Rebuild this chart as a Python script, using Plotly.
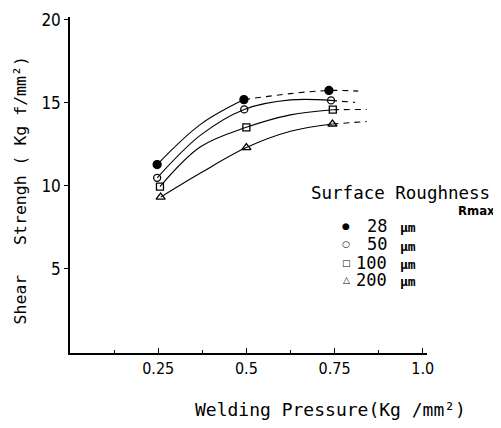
import plotly.graph_objects as go

roughness = ["28", "50", "100", "200"]
pressure_28 = [0.247, 0.493, 0.734]
strength_28 = [11.28, 15.19, 15.74]
pressure_50 = [0.247, 0.494, 0.740]
strength_50 = [10.48, 14.60, 15.14]
pressure_100 = [0.255, 0.500, 0.745]
strength_100 = [9.95, 13.52, 14.58]
pressure_200 = [0.257, 0.500, 0.744]
strength_200 = [9.32, 12.30, 13.72]

# ---- fitted curves (solid part, dashed extrapolation) ----
curve_solid_x_28 = [0.247, 0.37, 0.493]
curve_solid_y_28 = [11.28, 13.70, 15.19]
curve_dash_x_28 = [0.493, 0.625, 0.734, 0.817]
curve_dash_y_28 = [15.19, 15.55, 15.74, 15.70]

curve_solid_x_50 = [0.247, 0.37, 0.494, 0.625, 0.740]
curve_solid_y_50 = [10.48, 13.05, 14.60, 15.17, 15.14]
curve_dash_x_50 = [0.740, 0.808]
curve_dash_y_50 = [15.14, 15.02]

curve_solid_x_100 = [0.255, 0.37, 0.500, 0.625, 0.745]
curve_solid_y_100 = [9.95, 12.35, 13.52, 14.27, 14.58]
curve_dash_x_100 = [0.745, 0.841]
curve_dash_y_100 = [14.58, 14.60]

curve_solid_x_200 = [0.257, 0.37, 0.500, 0.625, 0.744]
curve_solid_y_200 = [9.32, 10.77, 12.30, 13.28, 13.72]
curve_dash_x_200 = [0.744, 0.841]
curve_dash_y_200 = [13.72, 13.87]

x_tickvals = [0.25, 0.5, 0.75, 1.0]
x_ticktext = ["0.25", "0.5", "0.75", "1.0"]
y_tickvals = [5, 10, 15, 20]
y_ticktext = ["5", "10", "15", "20"]

FONT = "DejaVu Sans Condensed, DejaVu Sans, sans-serif"
MONO = "DejaVu Sans Mono, monospace"
OFF = 8  # page body margin in the browser
W, H = 501 - OFF, 428 - OFF
# plot area in reference pixels: x 70..427, y 10..353
ML = 70 - OFF
MT = 10 - OFF
MR = W - (427 - OFF)
MB = H - (353 - OFF)
PW, PH = W - ML - MR, H - MT - MB


def px(xref_px):
    return (xref_px - OFF - ML) / PW


def py(yref_px):
    return (H - MB - (yref_px - OFF)) / PH


fig = go.Figure()

curves = [
    (curve_solid_x_28, curve_solid_y_28, curve_dash_x_28, curve_dash_y_28),
    (curve_solid_x_50, curve_solid_y_50, curve_dash_x_50, curve_dash_y_50),
    (curve_solid_x_100, curve_solid_y_100, curve_dash_x_100, curve_dash_y_100),
    (curve_solid_x_200, curve_solid_y_200, curve_dash_x_200, curve_dash_y_200),
]
for sx, sy, dx, dy in curves:
    fig.add_trace(go.Scatter(x=sx, y=sy, mode="lines", line=dict(color="black", width=1.1, shape="spline"),
                             showlegend=False, hoverinfo="skip"))
    fig.add_trace(go.Scatter(x=dx, y=dy, mode="lines",
                             line=dict(color="black", width=1.1, shape="spline", dash="6px,5px"),
                             showlegend=False, hoverinfo="skip"))

series = [
    (pressure_28, strength_28, "circle", 8),
    (pressure_50, strength_50, "circle-open", 7),
    (pressure_100, strength_100, "square-open", 7),
    (pressure_200, strength_200, "triangle-up-open", 8),
]
for (x, y, sym, size), name in zip(series, roughness):
    fig.add_trace(go.Scatter(
        x=x, y=y, mode="markers", name=name + " µm", showlegend=False,
        marker=dict(symbol=sym, size=size, color="black", line=dict(color="black", width=1.3)),
    ))

annotations = []
# axis titles
annotations.append(dict(x=px(330), y=py(411), xref="paper", yref="paper",
                        text="Welding Pressure(Kg /mm²)", showarrow=False,
                        font=dict(family=MONO, size=18, color="black"), xanchor="center", yanchor="middle"))
annotations.append(dict(x=px(20), y=py(187), xref="paper", yref="paper",
                        text="Shear   Strengh ( Kg f/mm²)", textangle=-90, showarrow=False,
                        font=dict(family=MONO, size=16.5, color="black"), xanchor="center", yanchor="middle"))
# legend block
annotations.append(dict(x=px(309), y=py(190), xref="paper", yref="paper", text="Surface Roughness",
                        showarrow=False, font=dict(family=MONO, size=17.5, color="black"),
                        xanchor="left", yanchor="middle"))
annotations.append(dict(x=px(497), y=py(208), xref="paper", yref="paper", text="<b>Rmax</b>",
                        showarrow=False, font=dict(family=FONT, size=13, color="black"),
                        xanchor="right", yanchor="middle"))
symbols = ["●", "○", "□", "△"]
rows_y = [223, 242, 261, 278]
for sym, val, ry in zip(symbols, roughness, rows_y):
    annotations.append(dict(x=px(346), y=py(ry), xref="paper", yref="paper", text=sym, showarrow=False,
                            font=dict(family="DejaVu Sans", size=9, color="black"),
                            xanchor="center", yanchor="middle"))
    annotations.append(dict(x=px(389), y=py(ry), xref="paper", yref="paper", text=val, showarrow=False,
                            font=dict(family=MONO, size=17, color="black"),
                            xanchor="right", yanchor="middle"))
    annotations.append(dict(x=px(398), y=py(ry + 2), xref="paper", yref="paper", text="<b>µm</b>",
                            showarrow=False, font=dict(family=MONO, size=13, color="black"),
                            xanchor="left", yanchor="middle"))

fig.update_layout(
    width=W, height=H,
    margin=dict(l=ML, r=MR, t=MT, b=MB),
    paper_bgcolor="white", plot_bgcolor="white",
    font=dict(family=FONT, color="black"),
    annotations=annotations,
    xaxis=dict(range=[0, 1.012], showgrid=False, zeroline=False, showline=True, linecolor="black",
               linewidth=1.5, tickvals=x_tickvals, ticktext=x_ticktext, ticks="inside", ticklen=5,
               tickcolor="black", tickfont=dict(size=16, family=FONT),
               minor=dict(ticks="inside", ticklen=3, tick0=0.125, dtick=0.25, tickcolor="black", showgrid=False)),
    yaxis=dict(range=[-0.06, 20.16], showgrid=False, zeroline=False, showline=True, linecolor="black",
               linewidth=1.5, tickvals=y_tickvals, ticktext=y_ticktext, ticks="outside", ticklen=4,
               tickcolor="black", tickfont=dict(size=17, family=FONT), ticklabeloverflow="allow"),
)

fig.write_html("out.html")
